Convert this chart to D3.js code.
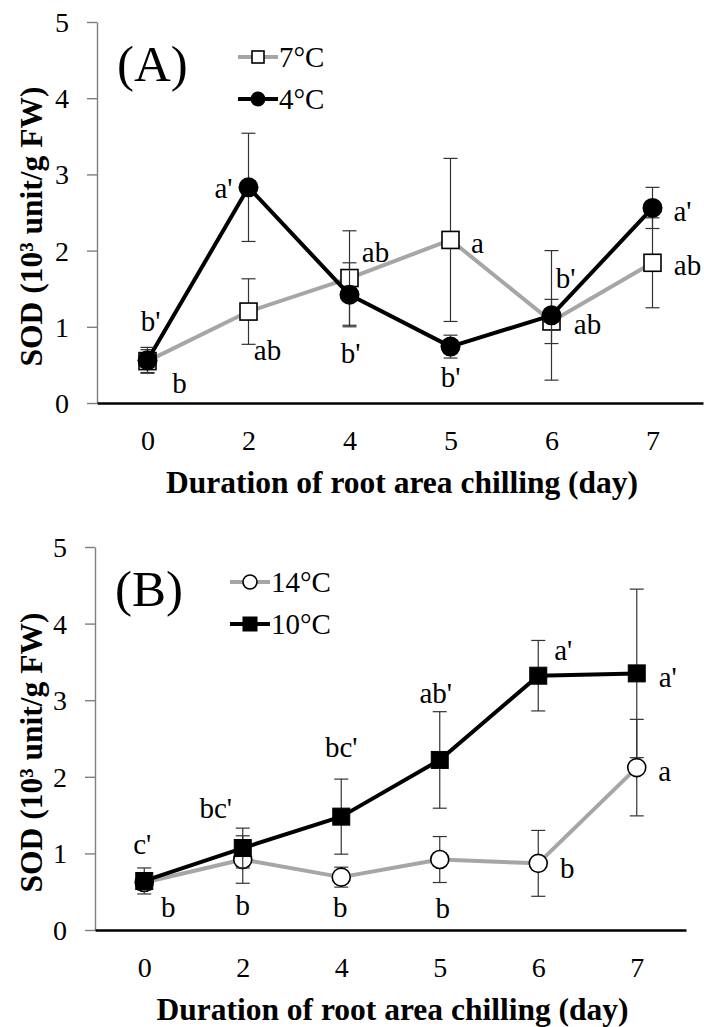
<!DOCTYPE html>
<html>
<head>
<meta charset="utf-8">
<script src="https://cdn.jsdelivr.net/npm/d3@7"></script>
<style>
  html, body { margin: 0; padding: 0; background: #fff; }
  svg { display: block; }
  text { font-family: "Liberation Serif", "Times New Roman", serif; fill: #000; }
</style>
</head>
<body>
<svg id="chart" width="704" height="1027"></svg>
<script>
// Sampling days (categorical x positions)
const days = ["0", "2", "4", "5", "6", "7"];
const yTicks = [0, 1, 2, 3, 4, 5];

// Panel A: SOD activity (10^3 unit/g FW), mean and error
const mean7C = [0.55, 1.20, 1.64, 2.14, 1.07, 1.84];
const err7C  = [0.15, 0.43, 0.62, 1.07, 0.29, 0.59];
const mean4C = [0.56, 2.83, 1.42, 0.74, 1.15, 2.56];
const err4C  = [0.17, 0.71, 0.42, 0.15, 0.85, 0.27];
const letters7C = ["b", "ab", "ab", "a", "ab", "ab"];
const letters4C = ["b'", "a'", "b'", "b'", "b'", "a'"];

// Panel B
const mean14C = [0.62, 0.92, 0.69, 0.92, 0.87, 2.12];
const err14C  = [0.10, 0.31, 0.13, 0.30, 0.43, 0.63];
const mean10C = [0.64, 1.07, 1.48, 2.22, 3.32, 3.35];
const err10C  = [0.17, 0.26, 0.49, 0.63, 0.46, 1.10];
const letters14C = ["b", "b", "b", "b", "b", "a"];
const letters10C = ["c'", "bc'", "bc'", "ab'", "a'", "a'"];

// Letter placement relative to each point, in pixels [dx, dy]
const place7C  = [[32, 22], [19, 38], [26, -26], [27, 3], [36, 2], [35, 2]];
const place4C  = [[3, -39], [-25, 0], [1, 58], [0, 30], [14, -38], [30, 3]];
const place14C = [[24, 24], [0, 45], [-1, 30], [3, 48], [29, 4], [28, 3]];
const place10C = [[-2, -37], [-27, -40], [0, -70], [-4, -67], [25, -26], [31, 3]];

const GREY = "#a6a6a6";
const svg = d3.select("#chart");

function drawPanel(cfg) {
  const g = svg.append("g");
  const x = d3.scalePoint().domain(days).range([cfg.x0, cfg.x1]).padding(0.5);
  const y = d3.scaleLinear().domain([0, 5]).range([cfg.y0, cfg.yTop]);

  // y axis
  const ya = g.append("g")
    .attr("transform", `translate(${cfg.x0},0)`)
    .call(d3.axisLeft(y).tickValues(yTicks).tickFormat(d3.format("d"))
      .tickSize(10).tickSizeOuter(0).tickPadding(18));
  ya.select(".domain").attr("stroke", "#7f7f7f").attr("stroke-width", 1.4);
  ya.selectAll(".tick line").attr("stroke", "#7f7f7f").attr("stroke-width", 1.4);
  ya.selectAll(".tick text").attr("font-size", 28)
    .attr("font-family", "Liberation Serif").attr("dy", "0.34em");

  // x axis
  const xa = g.append("g")
    .attr("transform", `translate(0,${cfg.y0})`)
    .call(d3.axisBottom(x).tickSize(0).tickSizeOuter(0).tickPadding(27));
  xa.select(".domain").attr("stroke", "#000").attr("stroke-width", 2.6);
  xa.selectAll(".tick text").attr("font-size", 28).attr("font-family", "Liberation Serif");

  // axis titles
  g.append("text")
    .attr("x", (cfg.x0 + cfg.x1) / 2 + 2).attr("y", cfg.y0 + 90)
    .attr("text-anchor", "middle").attr("font-size", 31.5).attr("font-weight", "bold")
    .text("Duration of root area chilling (day)");
  g.append("text")
    .attr("transform", `translate(42,${(cfg.y0 + cfg.yTop) / 2 + 14}) rotate(-90)`)
    .attr("text-anchor", "middle").attr("font-size", 31.5).attr("font-weight", "bold")
    .text("SOD (10³ unit/g FW)");

  // panel tag
  g.append("text").attr("x", cfg.x0 + 20).attr("y", cfg.yTop + 59)
    .attr("font-size", 51).text(cfg.tag);

  // series
  cfg.series.forEach(s => {
    const pts = days.map((d, i) => ({ d, v: s.mean[i], e: s.err[i], lab: s.letters[i], p: s.place[i] }));
    const line = d3.line().x(p => x(p.d)).y(p => y(p.v));
    g.append("path").datum(pts).attr("d", line)
      .attr("fill", "none").attr("stroke", s.color).attr("stroke-width", 4)
      .attr("stroke-linejoin", "round");

    const eb = g.append("g").attr("stroke", "#333").attr("stroke-width", 1.2);
    pts.forEach(p => {
      const cx = x(p.d);
      eb.append("line").attr("x1", cx).attr("x2", cx).attr("y1", y(p.v - p.e)).attr("y2", y(p.v + p.e));
      eb.append("line").attr("x1", cx - 7).attr("x2", cx + 7).attr("y1", y(p.v - p.e)).attr("y2", y(p.v - p.e));
      eb.append("line").attr("x1", cx - 7).attr("x2", cx + 7).attr("y1", y(p.v + p.e)).attr("y2", y(p.v + p.e));
    });

    pts.forEach(p => drawMarker(g, s.marker, x(p.d), y(p.v), s.size));

    g.selectAll(null).data(pts).enter().append("text")
      .attr("x", p => x(p.d) + p.p[0]).attr("y", p => y(p.v) + p.p[1])
      .attr("dy", "0.35em").attr("text-anchor", "middle").attr("font-size", 29)
      .text(p => p.lab);
  });

  // legend
  cfg.series.forEach((s, i) => {
    const ly = cfg.legY + i * 42;
    g.append("line").attr("x1", cfg.legX).attr("x2", cfg.legX + 40).attr("y1", ly).attr("y2", ly)
      .attr("stroke", s.color).attr("stroke-width", 4);
    drawMarker(g, s.marker, cfg.legX + 20, ly, s.legSize);
    g.append("text").attr("x", cfg.legX + 41).attr("y", ly).attr("dy", "0.35em")
      .attr("font-size", 29).text(s.name);
  });
}

function drawMarker(g, type, cx, cy, size) {
  const h = size / 2;
  if (type === "openSquare") {
    g.append("rect").attr("x", cx - h).attr("y", cy - h).attr("width", size).attr("height", size)
      .attr("fill", "#fff").attr("stroke", "#000").attr("stroke-width", 1.6);
  } else if (type === "filledSquare") {
    g.append("rect").attr("x", cx - h).attr("y", cy - h).attr("width", size).attr("height", size)
      .attr("fill", "#000").attr("stroke", "#000").attr("stroke-width", 1);
  } else if (type === "openCircle") {
    g.append("circle").attr("cx", cx).attr("cy", cy).attr("r", h)
      .attr("fill", "#fff").attr("stroke", "#000").attr("stroke-width", 1.6);
  } else {
    g.append("circle").attr("cx", cx).attr("cy", cy).attr("r", h).attr("fill", "#000");
  }
}

drawPanel({
  x0: 97, x1: 703, y0: 403, yTop: 22, tag: "(A)", legX: 238, legY: 57,
  series: [
    { name: "7°C", mean: mean7C, err: err7C, letters: letters7C, place: place7C,
      color: GREY, marker: "openSquare", size: 17, legSize: 12 },
    { name: "4°C", mean: mean4C, err: err4C, letters: letters4C, place: place4C,
      color: "#000", marker: "filledCircle", size: 20, legSize: 15 }
  ]
});

drawPanel({
  x0: 95, x1: 686, y0: 930, yTop: 547, tag: "(B)", legX: 230, legY: 582,
  series: [
    { name: "14°C", mean: mean14C, err: err14C, letters: letters14C, place: place14C,
      color: GREY, marker: "openCircle", size: 18, legSize: 14 },
    { name: "10°C", mean: mean10C, err: err10C, letters: letters10C, place: place10C,
      color: "#000", marker: "filledSquare", size: 17, legSize: 14 }
  ]
});
</script>
</body>
</html>
